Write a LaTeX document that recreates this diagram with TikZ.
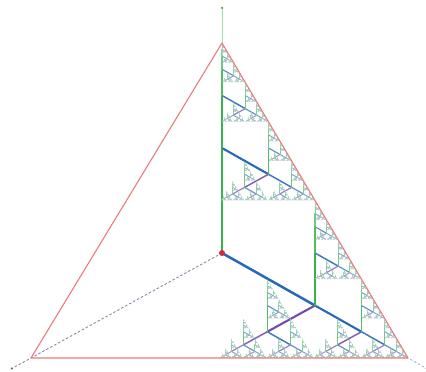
\documentclass[tikz,border=0pt]{standalone}
\definecolor{colx}{RGB}{40,105,180}
\definecolor{coly}{RGB}{115,75,170}
\definecolor{colz}{RGB}{55,180,75}
\definecolor{edgec}{RGB}{232,125,125}
\definecolor{dotc}{RGB}{205,45,60}
\newcommand\maxlev{7}
\newcommand\treeseg[6]{%
\begingroup
\pgfmathsetmacro\ex{#1}\pgfmathsetmacro\ey{#2}\pgfmathsetmacro\ez{#3}%
\if#4x\pgfmathsetmacro\ex{#1+#5}\fi
\if#4y\pgfmathsetmacro\ey{#2+#5}\fi
\if#4z\pgfmathsetmacro\ez{#3+#5}\fi
\edef\lw{\ifcase#6 2.5\or 2.1\or 1.5\or 1.2\or 1.0\or 0.85\or 0.75\else 0.65\fi}%
\edef\pc{\ifcase#6 100\or 100\or 88\or 72\or 60\or 52\or 46\else 40\fi}%
\draw[line width=\lw pt, draw=col#4!\pc!white, line cap=round] (#1,#2,#3) -- (\ex,\ey,\ez);
\ifnum#6<\maxlev\relax
 \pgfmathsetmacro\nl{#5/2}%
 \pgfmathtruncatemacro\nv{#6+1}%
 \edef\nextx{\noexpand\treeseg{\ex}{\ey}{\ez}{x}{\nl}{\nv}}\nextx
 \if#4z\else\edef\nexty{\noexpand\treeseg{\ex}{\ey}{\ez}{y}{\nl}{\nv}}\nexty\fi
 \edef\nextz{\noexpand\treeseg{\ex}{\ey}{\ez}{z}{\nl}{\nv}}\nextz
\fi
\endgroup}
\tikzset{
  axisy/.style={draw=coly!55!gray!80!white, line width=0.9pt, dash pattern=on 2.5pt off 2pt},
  axisx/.style={draw=colx!45!white, line width=0.9pt, dash pattern=on 2.5pt off 2pt},
  axisz/.style={draw=colz!45!white, line width=0.9pt},
  edge/.style={draw=edgec, line width=1.1pt, line join=round},
}
\begin{document}
\begin{tikzpicture}[x={(186pt,-105pt)}, y={(-191pt,-105pt)}, z={(0pt,210pt)}]
\useasboundingbox (-222pt,-119pt) rectangle (204pt,253pt);
\coordinate (O) at (0,0,0);
\coordinate (A) at (0,0,1);
\coordinate (B) at (0,1,0);
\coordinate (C) at (1,0,0);
\coordinate (Xe) at (1.1,0,0);
\coordinate (Ye) at (0,1.1,0);
\coordinate (Ze) at (0,0,1.167);
\draw[axisy] (O) -- (Ye);
\draw[axisx] (O) -- (Xe);
\draw[axisz] (O) -- (Ze);
\fill[coly!60!gray] (Ye) circle (1.2pt);
\fill[colx!60!white] (Xe) circle (1.2pt);
\fill[colz!70!gray] (Ze) circle (1.2pt);
\treeseg{0}{0}{0}{z}{0.5}{0}
\treeseg{0}{0}{0}{x}{0.5}{0}
\draw[edge] (C) -- (B) -- (A) -- cycle;
\fill[dotc] (O) circle (3pt);
\end{tikzpicture}
\end{document}
